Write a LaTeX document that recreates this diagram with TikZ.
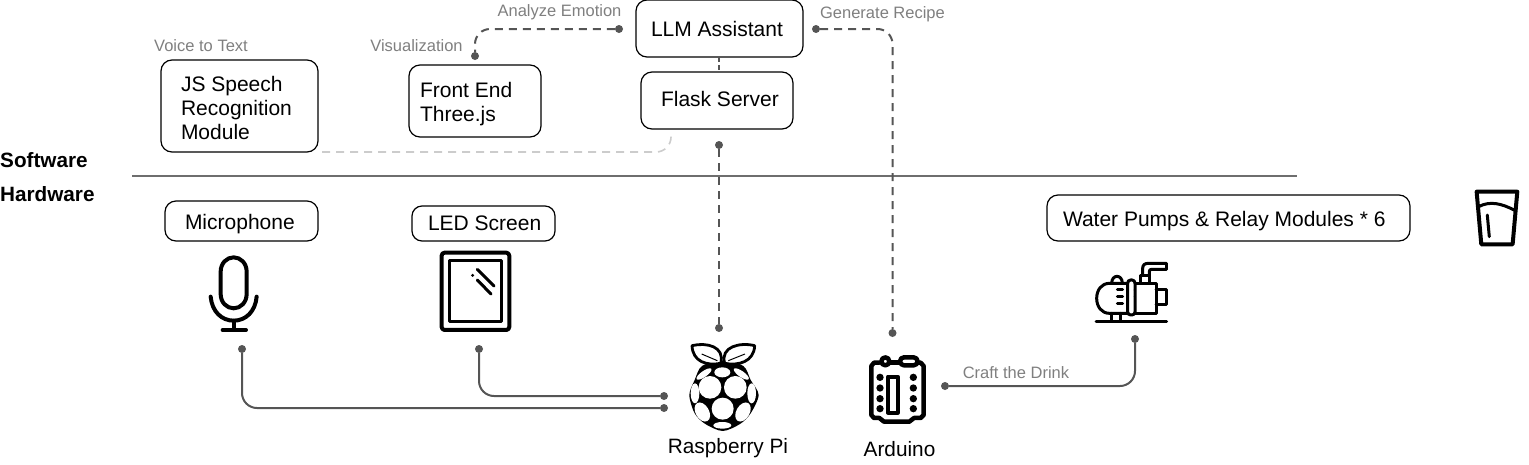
\documentclass[tikz,border=0pt]{standalone}
\usepackage{fontspec}
\setmainfont{Liberation Sans}
\definecolor{linegray}{HTML}{555555}
\definecolor{labelgray}{HTML}{7F7F7F}
\definecolor{palegray}{HTML}{CCCCCC}
\newcommand\btxt[3]{\raisebox{#1}[0pt][0pt]{\parbox[c]{#2}{\fontsize{21}{24}\selectfont #3}}}
\tikzset{
  box/.style={draw=black,line width=1.2pt,rounded corners=11pt,inner ysep=0pt},
  plain/.style={inner sep=0pt,font=\fontsize{20.8}{24}\selectfont,text=black},
  side/.style={inner sep=0pt,anchor=west,font=\fontsize{20.7}{24}\selectfont\bfseries,text=black},
  lab/.style={inner sep=0pt,font=\fontsize{16.5}{18}\selectfont,text=labelgray},
  dotn/.style={circle,fill=linegray,inner sep=0pt,minimum size=8pt},
  solidc/.style={draw=linegray,line width=2pt,rounded corners=15pt},
  dashc/.style={draw=linegray,line width=2pt,dash pattern=on 8pt off 6pt,rounded corners=15pt},
  palec/.style={draw=palegray,line width=1.6pt,dash pattern=on 8pt off 6pt,rounded corners=15pt},
  icon/.style={draw=black,line width=4pt,line join=round,line cap=round},
  iconthin/.style={draw=black,line width=3pt,line join=round,line cap=round},
}
\begin{document}
\begin{tikzpicture}[x=1pt,y=-1pt]
\useasboundingbox (0,0) rectangle (1529,464);
% boxes
\node[box,minimum width=167pt,minimum height=57pt,inner xsep=15pt] (llm) at (719.5,28.5) {\btxt{-3pt}{137pt}{LLM Assistant}};
\node[box,minimum width=152pt,minimum height=57pt,inner xsep=8pt] (flask) at (717,100.5) {\btxt{-1pt}{136pt}{\hspace*{12pt}Flask Server}};
\node[box,minimum width=157pt,minimum height=92pt,inner xsep=20pt] (js) at (239.5,106) {\btxt{-4.5pt}{117pt}{JS Speech\\Recognition\\Module}};
\node[box,minimum width=132pt,minimum height=72pt,inner xsep=11pt] (front) at (475,101) {\btxt{-5.5pt}{110pt}{Front End\\Three.js}};
\node[box,minimum width=153pt,minimum height=40pt,inner xsep=20pt] (mic) at (241.5,221) {\btxt{-5.5pt}{113pt}{Microphone}};
\node[box,minimum width=143pt,minimum height=35pt,inner xsep=8pt,rounded corners=10pt] (led) at (483.5,223.5) {\btxt{-2pt}{127pt}{\hspace*{8pt}LED Screen}};
\node[box,minimum width=363pt,minimum height=46pt,inner xsep=16pt] (pump) at (1228.5,218) {\btxt{-5.5pt}{331pt}{Water Pumps \& Relay Modules * 6}};
% side labels and divider
\node[side] (sw) at (0,160) {Software};
\node[side] (hw) at (0,194) {Hardware};
\coordinate (divl) at (132,176);
\coordinate (divr) at (1297,176);
\draw[draw=linegray!85,line width=1.6pt] (divl) -- (divr);
% grey labels
\node[lab] (l1) at (201,45.5) {Voice to Text};
\node[lab] (l2) at (416.5,45.5) {Visualization};
\node[lab] (l3) at (559.5,12.5) {Analyze Emotion};
\node[lab] (l4) at (882.5,14.5) {Generate Recipe};
\node[lab] (l5) at (1016,372.5) {Craft the Drink};
\node[plain] (rp) at (728,448.5) {Raspberry Pi};
\node[plain] (ar) at (899.5,449) {Arduino};
% connector dots
\node[dotn] (dA) at (619,29) {};
\node[dotn] (dB) at (475,56) {};
\node[dotn] (dG) at (816,29) {};
\node[dotn] (dR) at (892.5,333) {};
\node[dotn] (dF) at (719,145) {};
\node[dotn] (dP) at (719,328) {};
\node[dotn] (dM) at (242,349) {};
\node[dotn] (dMe) at (664,408) {};
\node[dotn] (dL) at (479,349) {};
\node[dotn] (dLe) at (664,396) {};
\node[dotn] (dU) at (945,386) {};
\node[dotn] (dW) at (1135,339) {};
\coordinate (llmb) at (719,57);
\coordinate (flat) at (719,72);
\coordinate (g0) at (322,152);
\coordinate (g1) at (671,135);
% connectors
\draw[dashc] (dA) -| (dB);
\draw[dashc] (dG) -| (dR);
\draw[dashc,dash pattern=on 5pt off 3pt] (llmb) -- (flat);
\draw[dashc] (dF) -- (dP);
\draw[palec] (g0) -| (g1);
\draw[solidc] (dM) |- (dMe);
\draw[solidc] (dL) |- (dLe);
\draw[solidc] (dU) -| (dW);
% microphone icon
\begin{scope}[shift={(190,200)},x=0.3333pt,y=-0.3333pt]
  \draw[icon] (92,215) .. controls (92,190) and (110,172) .. (131,172) .. controls (152,172) and (170,190) .. (170,215) -- (170,282) .. controls (170,307) and (152,325) .. (131,325) .. controls (110,325) and (92,307) .. (92,282) -- cycle;
  \draw[icon] (62,290) .. controls (66,335) and (95,362) .. (131,362) .. controls (167,362) and (196,335) .. (200,290);
  \draw[icon] (131,362) -- (131,390);
  \draw[icon] (98,390) -- (168,390);
\end{scope}
% screen icon
\begin{scope}[shift={(190,200)},x=0.3333pt,y=-0.3333pt]
  \draw[icon,rounded corners=3pt] (755,158) rectangle (958,390);
  \draw[iconthin] (780,183) rectangle (935,365);
  \draw[iconthin] (862,208) -- (912,258);
  \draw[iconthin] (862,240) -- (903,282);
  \fill[black] (848,226) circle[radius=5];
\end{scope}
% glass and pump icons
\begin{scope}[shift={(1080,180)},x=0.3333pt,y=-0.3333pt]
  \draw[icon] (1190,35) -- (1312,35) -- (1298,193) -- (1204,193) -- cycle;
  \draw[icon,line width=3pt] (1196,80) .. controls (1230,62) and (1265,70) .. (1306,92);
  \draw[iconthin] (1222,105) -- (1228,170);
  % pump
  \draw[iconthin] (48,424) -- (260,424);
  \draw[iconthin] (143,310) -- (88,310) .. controls (65,310) and (50,330) .. (50,355) .. controls (50,380) and (65,400) .. (88,400) -- (143,400);
  \draw[iconthin] (95,310) .. controls (95,282) and (127,282) .. (127,310);
  \draw[iconthin,rounded corners=3pt] (143,300) rectangle (165,405);
  \draw[iconthin] (165,310) -- (228,310) -- (228,400) -- (165,400);
  \draw[iconthin] (228,330) -- (258,330) -- (258,375) -- (228,375);
  \draw[iconthin] (180,310) -- (180,287) -- (208,287) -- (208,310);
  \draw[iconthin] (188,287) -- (188,265) .. controls (188,255) and (194,250) .. (205,250) -- (258,250);
  \draw[iconthin] (208,287) -- (208,275) .. controls (208,270) and (210,268) .. (215,268) -- (258,268);
  \draw[iconthin] (258,250) -- (258,268);
  \draw[iconthin] (95,400) -- (95,424);
  \draw[iconthin] (122,400) -- (122,424);
  \draw[iconthin] (112,330) -- (128,330);
  \draw[iconthin] (112,350) -- (128,350);
  \draw[iconthin] (112,372) -- (128,372);
  \fill[black] (164,330) circle[radius=3] (164,350) circle[radius=3];
\end{scope}
% Arduino icon
\begin{scope}[shift={(850,320)},x=0.3333pt,y=-0.3333pt]
  \draw[icon,line width=4.5pt] (88,128) -- (72,128) -- (64,138) -- (64,285) -- (72,294) -- (88,294) -- (102,305) -- (178,305) -- (192,294) -- (212,294) -- (221,285) -- (221,138) -- (212,128) -- (205,128);
  \draw[icon,line width=4.5pt] (122,128) -- (150,128);
  \draw[icon,line width=4.5pt,rounded corners=4pt] (94,112) rectangle (118,136);
  \draw[icon,line width=4.5pt,rounded corners=4pt] (150,112) rectangle (203,136);
  \draw[icon] (114,170) rectangle (143,278);
  \foreach \yy in {172,204,236,266} {
    \fill[black] (90,\yy) circle[radius=11];
    \fill[black] (190,\yy) circle[radius=11];
  }
\end{scope}
% Raspberry Pi icon
\begin{scope}[shift={(660,330)},x=0.3333pt,y=-0.3333pt]
  \fill[black] plot[smooth cycle] coordinates {(188,92) (250,108) (272,150) (296,195) (272,250) (240,282) (188,303) (136,282) (104,250) (88,195) (104,150) (126,108)};
  \draw[black,fill=white,line width=2.8pt,line join=round] (182,100) .. controls (140,108) and (98,95) .. (96,47) .. controls (140,36) and (196,50) .. (182,100) -- cycle;
  \draw[black,fill=white,line width=2.8pt,line join=round] (194,100) .. controls (236,108) and (282,95) .. (284,47) .. controls (240,36) and (180,50) .. (194,100) -- cycle;
  \draw[black,line width=1pt] (125,72) -- (172,92) (255,72) -- (205,92);
  \fill[white] (187,127) ellipse[x radius=24,y radius=15];
  \fill[white,rotate around={35:(132,132)}] (132,132) ellipse[x radius=27,y radius=9];
  \fill[white,rotate around={-35:(244,132)}] (244,132) ellipse[x radius=27,y radius=9];
  \fill[white] (150,172) circle[radius=34];
  \fill[white] (226,172) circle[radius=34];
  \fill[white] (188,236) circle[radius=33];
  \fill[white] (105,190) ellipse[x radius=13,y radius=30];
  \fill[white] (275,190) ellipse[x radius=13,y radius=30];
  \fill[white,rotate around={30:(127,246)}] (127,246) ellipse[x radius=20,y radius=31];
  \fill[white,rotate around={-30:(249,246)}] (249,246) ellipse[x radius=20,y radius=31];
  \fill[white] (187,286) ellipse[x radius=27,y radius=10];
\end{scope}
\end{tikzpicture}
\end{document}
